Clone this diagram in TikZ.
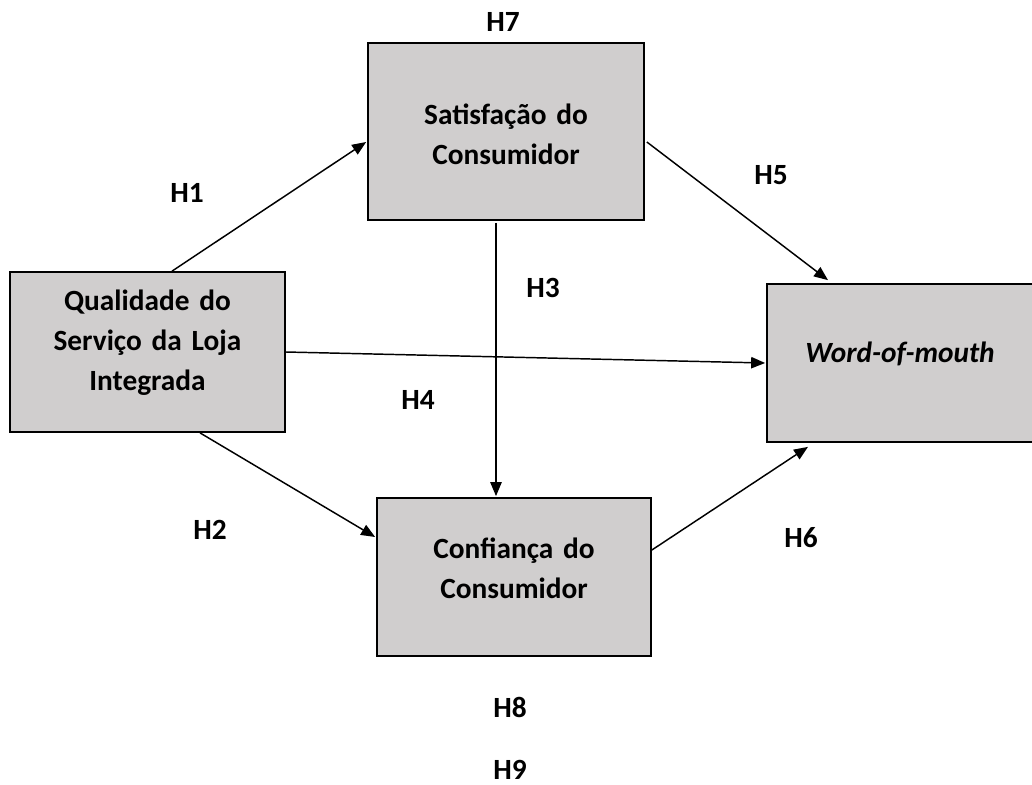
\documentclass[tikz,border=0pt]{standalone}
\usepackage{fontspec}
\setmainfont{Carlito}
\definecolor{boxGray}{RGB}{208,206,206}
\usetikzlibrary{arrows.meta,calc}

\begin{document}
\begin{tikzpicture}[
  x=0.75pt, y=-0.75pt,
  box/.style={draw=black, fill=boxGray, line width=1.3pt, inner sep=0pt},
  boxtext/.style={
    text width=6.5cm, align=center, inner sep=0pt,
    font=\fontsize{22}{30}\selectfont\bfseries
  },
  hyp/.style={font=\fontsize{22}{30}\selectfont\bfseries, inner sep=0pt},
  arr/.style={-{Triangle[length=10.5pt,width=8.5pt]}, draw=black, line width=1.1pt}
]
  \useasboundingbox (0,0) rectangle (1032,785);
  % boxes
  \node[box, minimum width=276*0.75pt, minimum height=177*0.75pt] (sat) at (506,131.5) {};
  \node[box, minimum width=275*0.75pt, minimum height=160*0.75pt] (qual) at (147.5,352) {};
  \node[box, minimum width=266*0.75pt, minimum height=158*0.75pt] (wom) at (900,363) {};
  \node[box, minimum width=274*0.75pt, minimum height=158*0.75pt] (conf) at (514,577) {};
  \node[boxtext] (sattxt) at ($(sat)+(0,3)$) {Satisfação do\\Consumidor};
  \node[boxtext] (qualtxt) at ($(qual)+(0,-9)$) {Qualidade do\\Serviço da Loja\\Integrada};
  \node[boxtext] (womtxt) at ($(wom)+(0,-9)$) {\itshape Word-of-mouth};
  \node[boxtext] (conftxt) at ($(conf)+(0,-9)$) {Confiança do\\Consumidor};
  % arrows
  \draw[arr] ($(qual.north)+(24.5,0)$) -- ($(sat.west)+(-1,10.5)$);
  \draw[arr] (qual.east) -- ($(wom.west)+(-1,0)$);
  \draw[arr] ($(qual.south)+(52.5,0)$) -- ($(conf.west)+(-1,-40)$);
  \draw[arr] ($(sat.south)+(-10,2)$) -- ($(conf.north)+(-18,-1)$);
  \draw[arr] ($(sat.east)+(2,10.5)$) -- ($(wom.north)+(-72,-3)$);
  \draw[arr] ($(conf.east)+(0,-27)$) -- ($(wom.south)+(-92,4)$);
  % hypotheses
  \node[hyp] (h7) at (503,22) {H7};
  \node[hyp] (h1) at (187,193) {H1};
  \node[hyp] (h5) at (771,175) {H5};
  \node[hyp] (h3) at (543,288) {H3};
  \node[hyp] (h4) at (418,400) {H4};
  \node[hyp] (h2) at (210,530) {H2};
  \node[hyp] (h6) at (801,538) {H6};
  \node[hyp] (h8) at (510,707) {H8};
  \node[hyp] (h9) at (510,770) {H9};
\end{tikzpicture}
\end{document}
